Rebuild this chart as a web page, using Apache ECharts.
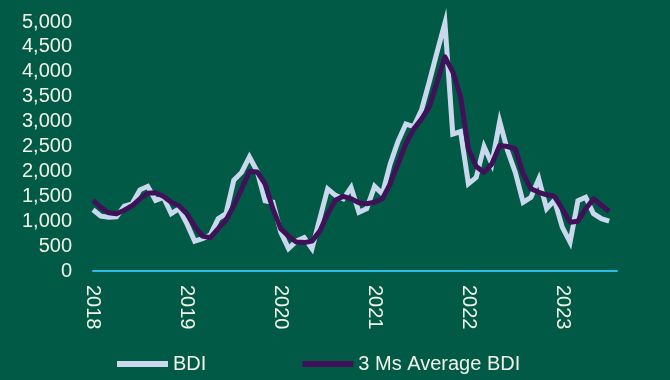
<!DOCTYPE html>
<html>
<head>
<meta charset="utf-8">
<script src="https://cdn.jsdelivr.net/npm/echarts@6/dist/echarts.min.js"></script>
<style>
html,body{margin:0;padding:0;background:#015a45;}
#c{width:670px;height:380px;}
</style>
</head>
<body>
<div id="c"></div>
<script>
var years = ['2018','2019','2020','2021','2022','2023'];
var yTicks = [0,500,1000,1500,2000,2500,3000,3500,4000,4500,5000];
var bdi = [1230,1100,1080,1090,1300,1350,1630,1700,1420,1480,1150,1250,
           950,600,650,720,1050,1150,1820,1980,2290,2000,1410,1380,
           780,450,600,670,450,1050,1650,1520,1450,1680,1180,1250,
           1700,1550,2150,2600,2950,2900,3230,3800,4400,4980,2750,2800,
           1750,1880,2500,2150,3000,2420,1980,1380,1480,1850,1250,1420,
           880,580,1410,1480,1150,1050,1000];
var avg3m = [1420,1280,1170,1150,1220,1310,1450,1560,1570,1500,1380,1310,
             1150,900,700,670,850,1020,1310,1650,2000,1990,1750,1250,
             850,700,580,570,600,800,1150,1420,1500,1450,1370,1350,
             1380,1450,1750,2150,2550,2850,3050,3300,3800,4300,4000,3500,
             2450,2100,1980,2150,2520,2500,2450,1950,1650,1580,1530,1500,
             1250,980,1000,1250,1450,1320,1200];

var cats = [];
years.forEach(function(y){ for (var m=1;m<=12;m++) cats.push(y+'-'+(m<10?'0':'')+m); });
cats = cats.slice(0, bdi.length + 1);

var chart = echarts.init(document.getElementById('c'));
var txt = '#f1f3e8';
chart.setOption({
  backgroundColor: '#015a45',
  animation: false,
  grid: {left: 93, right: 53, top: 22, bottom: 109},
  legend: {
    left: 112, top: 349, itemGap: 96, itemWidth: 51, itemHeight: 6,
    icon: 'rect',
    textStyle: {color: txt, fontSize: 20, fontFamily: 'Liberation Sans, Arial, sans-serif'},
    data: ['BDI', '3 Ms Average BDI']
  },
  xAxis: {
    type: 'category', data: cats, boundaryGap: false,
    axisLine: {show: true, lineStyle: {color: '#2bbbe3', width: 2}},
    axisTick: {show: false},
    axisLabel: {
      rotate: -90, margin: 14, color: txt, fontSize: 20,
      fontFamily: 'Liberation Sans, Arial, sans-serif',
      interval: function(i){ return i % 12 === 0; },
      formatter: function(v){ return v.slice(0,4); }
    },
    splitLine: {show: false}
  },
  yAxis: {
    type: 'value', min: yTicks[0], max: yTicks[yTicks.length-1], interval: 500,
    axisLine: {show: false}, axisTick: {show: false}, splitLine: {show: false},
    axisLabel: {
      color: txt, fontSize: 20, margin: 21,
      fontFamily: 'Liberation Sans, Arial, sans-serif',
      formatter: function(v){ return v.toLocaleString('en-US'); }
    }
  },
  series: [
    {name: 'BDI', type: 'line', data: bdi, symbol: 'none', clip: false,
     itemStyle: {color: '#c9d8ec'},
     lineStyle: {color: '#c9d8ec', width: 5, join: 'miter', cap: 'butt'}},
    {name: '3 Ms Average BDI', type: 'line', data: avg3m, symbol: 'none', clip: false,
     itemStyle: {color: '#3f1159'},
     lineStyle: {color: '#3f1159', width: 5, join: 'round', cap: 'butt'}}
  ]
});
</script>
</body>
</html>
